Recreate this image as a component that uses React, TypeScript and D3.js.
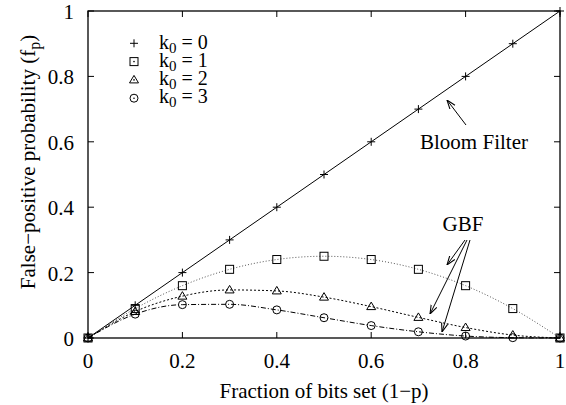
import React from 'react';
import * as d3 from 'd3';

// fraction of bits set (1-p)
const xs = [0, 0.1, 0.2, 0.3, 0.4, 0.5, 0.6, 0.7, 0.8, 0.9, 1];

// false-positive probability per k0
const k0Zero = [0, 0.1, 0.2, 0.3, 0.4, 0.5, 0.6, 0.7, 0.8, 0.9, 1];
const k0One = [0, 0.09, 0.16, 0.21, 0.24, 0.25, 0.24, 0.21, 0.16, 0.09, 0];
const k0Two = [0, 0.081, 0.128, 0.147, 0.144, 0.125, 0.096, 0.063, 0.032, 0.009, 0];
const k0Three = [0, 0.073, 0.102, 0.103, 0.086, 0.062, 0.038, 0.019, 0.006, 0.001, 0];

const xTicks = [0, 0.2, 0.4, 0.6, 0.8, 1];
const yTicks = [0, 0.2, 0.4, 0.6, 0.8, 1];
const legendLabels = ['0', '1', '2', '3'];

const W = 566;
const H = 405;
const margin = { top: 11, right: 6, bottom: 67, left: 88 };
const FONT = "'Liberation Serif', 'Times New Roman', Times, serif";
const FS = 21;

type MarkerKind = 'plus' | 'square' | 'triangle' | 'circle';

const Marker: React.FC<{ kind: MarkerKind; x: number; y: number; dot?: boolean }> = ({ kind, x, y, dot }) => {
  const s = 4;
  let shape: React.ReactNode = null;
  if (kind === 'plus') {
    shape = <path d={`M${x - s},${y}H${x + s}M${x},${y - s}V${y + s}`} stroke="#000" strokeWidth={1} />;
  } else if (kind === 'square') {
    shape = <rect x={x - s} y={y - s} width={2 * s} height={2 * s} fill="none" stroke="#000" strokeWidth={1} />;
  } else if (kind === 'triangle') {
    shape = <path d={`M${x},${y - s - 0.5}L${x + s + 0.5},${y + s - 1}L${x - s - 0.5},${y + s - 1}Z`} fill="none" stroke="#000" strokeWidth={1} />;
  } else {
    shape = <circle cx={x} cy={y} r={s} fill="none" stroke="#000" strokeWidth={1} />;
  }
  return (
    <g>
      {shape}
      {dot && kind !== 'plus' && <circle cx={x} cy={y} r={0.8} fill="#000" />}
    </g>
  );
};

const series: { values: number[]; kind: MarkerKind; stroke: string; dash: string | undefined; curved: boolean }[] = [
  { values: k0Zero, kind: 'plus', stroke: '#000', dash: undefined, curved: false },
  { values: k0One, kind: 'square', stroke: '#555', dash: '1,2', curved: true },
  { values: k0Two, kind: 'triangle', stroke: '#000', dash: '2,2', curved: true },
  { values: k0Three, kind: 'circle', stroke: '#000', dash: '5,2,1,2', curved: true },
];

export default function App() {
  const iw = W - margin.left - margin.right;
  const ih = H - margin.top - margin.bottom;

  const x = d3.scaleLinear().domain([0, 1]).range([margin.left, margin.left + iw]);
  const y = d3.scaleLinear().domain([0, 1]).range([margin.top + ih, margin.top]);

  const straight = d3.line<number>().x((_, i) => x(xs[i])).y(d => y(d));
  const smooth = d3.line<number>().x((_, i) => x(xs[i])).y(d => y(d)).curve(d3.curveMonotoneX);

  const tickLen = 6;
  const x0 = x(0), x1 = x(1), y0 = y(0), y1 = y(1);

  return (
    <svg width={W} height={H} style={{ position: 'absolute', left: 0, top: 0, background: '#fff', fontFamily: FONT }}>
      <defs>
        <marker id="arrow" viewBox="0 0 10 10" refX="10" refY="5" markerWidth="9" markerHeight="9" orient="auto-start-reverse" markerUnits="userSpaceOnUse">
          <path d="M0,1.5L10,5L0,8.5" fill="none" stroke="#000" strokeWidth={1.2} />
        </marker>
      </defs>

      {/* ticks, mirrored on all sides */}
      {xTicks.map(t => (
        <g key={`xt${t}`}>
          <line x1={x(t)} x2={x(t)} y1={y0} y2={y0 - tickLen} stroke="#000" />
          <line x1={x(t)} x2={x(t)} y1={y1} y2={y1 + tickLen} stroke="#000" />
          <text x={x(t)} y={y0 + 30} textAnchor="middle" fontSize={FS}>{String(t)}</text>
        </g>
      ))}
      {yTicks.map(t => (
        <g key={`yt${t}`}>
          <line x1={x0} x2={x0 + tickLen} y1={y(t)} y2={y(t)} stroke="#000" />
          <line x1={x1} x2={x1 - tickLen} y1={y(t)} y2={y(t)} stroke="#000" />
          <text x={x0 - 14} y={y(t) + 8} textAnchor="end" fontSize={FS}>{String(t)}</text>
        </g>
      ))}

      {/* series lines */}
      {series.map((s, i) => (
        <path key={`l${i}`} d={(s.curved ? smooth : straight)(s.values) || ''} fill="none"
          stroke={s.stroke} strokeWidth={1} strokeDasharray={s.dash} />
      ))}

      {/* series markers */}
      {series.map((s, i) => (
        <g key={`m${i}`}>
          {s.values.map((v, j) => (
            <Marker key={j} kind={s.kind} x={x(xs[j])} y={y(v)} />
          ))}
        </g>
      ))}

      {/* frame */}
      <rect x={x0} y={y1} width={x1 - x0} height={y0 - y1} fill="none" stroke="#000" strokeWidth={1.3} />

      {/* legend */}
      {series.map((s, i) => (
        <g key={`lg${i}`}>
          <Marker kind={s.kind} x={134} y={43.3 + i * 18.3} dot />
          <text x={159} y={48.5 + i * 18.3} fontSize={20}>
            k<tspan dy={4} fontSize={15}>0</tspan><tspan dy={-4}> = {legendLabels[i]}</tspan>
          </text>
        </g>
      ))}

      {/* annotations */}
      <text x={474} y={149} textAnchor="middle" fontSize={FS}>Bloom Filter</text>
      <line x1={466} y1={125} x2={447} y2={100} stroke="#000" strokeWidth={1} markerEnd="url(#arrow)" />

      <text x={463} y={231} textAnchor="middle" fontSize={FS}>GBF</text>
      <line x1={465} y1={240} x2={447} y2={265} stroke="#000" strokeWidth={1} markerEnd="url(#arrow)" />
      <line x1={467} y1={240} x2={430} y2={314} stroke="#000" strokeWidth={1} markerEnd="url(#arrow)" />
      <line x1={470} y1={240} x2={442} y2={332} stroke="#000" strokeWidth={1} markerEnd="url(#arrow)" />

      {/* axis titles */}
      <text x={(x0 + x1) / 2} y={398} textAnchor="middle" fontSize={FS}>Fraction of bits set (1−p)</text>
      <text transform={`translate(35,162) rotate(-90)`} textAnchor="middle" fontSize={FS}>
        False−positive probability (f<tspan dy={5} fontSize={16}>p</tspan><tspan dy={-5}>)</tspan>
      </text>
    </svg>
  );
}
